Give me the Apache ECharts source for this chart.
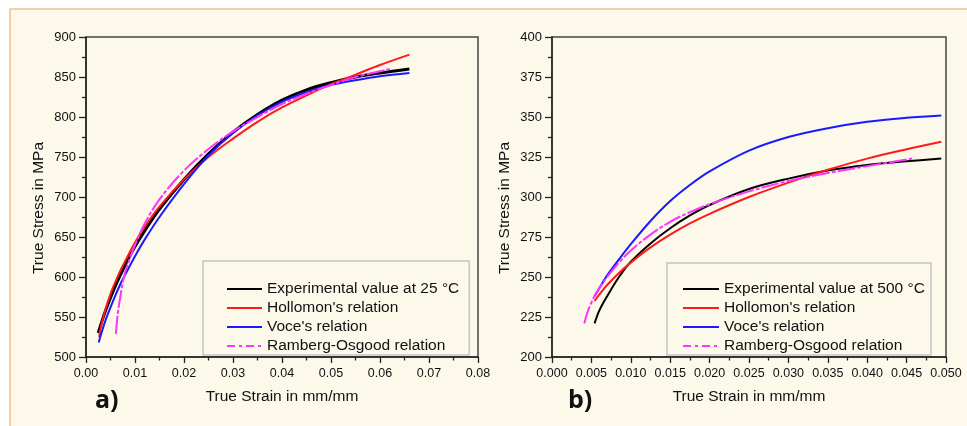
<!DOCTYPE html>
<html lang="en">
<head>
    <meta charset="UTF-8">
    <title>True stress - true strain</title>
    <script src="https://cdn.jsdelivr.net/npm/echarts@6.0.0/dist/echarts.min.js"></script>
    <style>
        html, body { margin: 0; padding: 0; background: #ffffff; }
    </style>
</head>
<body>

<div id="main" style="width: 967px;height:426px;"></div>

<script type="text/javascript">
    // legend names
    var namesA = ['Experimental value at 25 °C', "Hollomon's relation", "Voce's relation", 'Ramberg-Osgood relation'];
    var namesB = ['Experimental value at 500 °C', "Hollomon's relation", "Voce's relation", 'Ramberg-Osgood relation'];

    // a) 25 °C : [strain, stress MPa]
    var exp25 = [[0.0025, 530], [0.003, 540], [0.004, 558], [0.005, 574], [0.006, 589], [0.007, 602], [0.008, 615],
        [0.010, 638], [0.012, 658], [0.015, 685], [0.020, 722], [0.025, 754], [0.030, 781], [0.035, 803],
        [0.040, 821], [0.045, 834], [0.050, 843], [0.055, 850], [0.060, 855], [0.066, 860]];
    var hollomon25 = [[0.0027, 525], [0.003, 537], [0.004, 560], [0.005, 579], [0.006, 594], [0.007, 608], [0.008, 620],
        [0.010, 643], [0.012, 663], [0.015, 688], [0.020, 722], [0.025, 750], [0.030, 773], [0.035, 794],
        [0.040, 812], [0.045, 827], [0.050, 841], [0.055, 853], [0.060, 865], [0.066, 878]];
    var voce25 = [[0.0026, 518], [0.003, 527], [0.004, 546], [0.005, 562], [0.006, 577], [0.007, 591], [0.008, 603],
        [0.010, 626], [0.012, 647], [0.015, 675], [0.020, 716], [0.025, 752], [0.030, 780], [0.035, 802],
        [0.040, 819], [0.045, 831], [0.050, 840], [0.055, 846], [0.060, 851], [0.066, 855]];
    var ramberg25 = [[0.0061, 529], [0.0065, 555], [0.007, 575], [0.0075, 593], [0.008, 606], [0.009, 624],
        [0.010, 640], [0.012, 667], [0.015, 697], [0.020, 733], [0.025, 760], [0.030, 782], [0.035, 800],
        [0.040, 816], [0.045, 829], [0.050, 840], [0.055, 850], [0.062, 860]];

    // b) 500 °C : [strain, stress MPa]
    var exp500 = [[0.0054, 221], [0.006, 229], [0.007, 238], [0.0085, 250], [0.010, 259.5], [0.0125, 271], [0.015, 280.5],
        [0.0175, 288.5], [0.020, 295], [0.025, 305], [0.030, 311.5], [0.035, 316.5], [0.040, 320], [0.045, 322.3], [0.0494, 324]];
    var hollomon500 = [[0.0054, 235], [0.006, 239], [0.007, 245], [0.0085, 252.5], [0.010, 259], [0.0125, 268.5],
        [0.015, 276.5], [0.0175, 283.5], [0.020, 289.5], [0.025, 300], [0.030, 309], [0.035, 317], [0.040, 324],
        [0.045, 329.8], [0.0494, 334.5]];
    var voce500 = [[0.0054, 238], [0.006, 243], [0.007, 251], [0.0085, 261], [0.010, 270.5], [0.0125, 285], [0.015, 297.5],
        [0.0175, 307.5], [0.020, 316], [0.025, 329], [0.030, 337.5], [0.035, 343], [0.040, 347], [0.045, 349.5], [0.0494, 351]];
    var ramberg500 = [[0.0041, 221], [0.0045, 228], [0.005, 234], [0.0055, 239], [0.006, 243], [0.007, 250], [0.0085, 259],
        [0.010, 266.5], [0.0125, 276.5], [0.015, 284.5], [0.0175, 290.5], [0.020, 295.5], [0.025, 303.5], [0.030, 310],
        [0.035, 315], [0.040, 319.3], [0.0457, 324]];

    var colors = ['#000000', '#ff1a1a', '#1a1aff', '#ff33ff'];
    var font = 'Liberation Sans, Arial, sans-serif';

    var myChart = echarts.init(document.getElementById('main'));

    function xAxisOf(idx, max, step, digits) {
        return {
            gridIndex: idx, type: 'value', min: 0, max: max, interval: step,
            name: 'True Strain in mm/mm', nameLocation: 'middle', nameGap: 32,
            nameTextStyle: {color: '#111', fontSize: 15.5, fontFamily: font},
            axisLine: {lineStyle: {color: '#222', width: 1.5}},
            axisTick: {show: true, inside: false, length: 6, lineStyle: {color: '#222', width: 1.3}},
            minorTick: {show: true, splitNumber: 2, length: 3.5, lineStyle: {color: '#222', width: 1.3}},
            splitLine: {show: false},
            axisLabel: {
                color: '#111', fontSize: 12.5, fontFamily: font, margin: 10,
                formatter: function (v) { return v.toFixed(digits); }
            }
        };
    }

    function yAxisOf(idx, min, max, step) {
        return {
            gridIndex: idx, type: 'value', min: min, max: max, interval: step,
            name: 'True Stress in MPa', nameLocation: 'middle', nameGap: 39,
            nameTextStyle: {color: '#111', fontSize: 15.5, fontFamily: font, padding: [0, 22, 0, 0]},
            axisLine: {lineStyle: {color: '#222', width: 1.5}},
            axisTick: {show: true, inside: false, length: 7, lineStyle: {color: '#222', width: 1.3}},
            minorTick: {show: true, splitNumber: 2, length: 4, lineStyle: {color: '#222', width: 1.3}},
            splitLine: {show: false},
            axisLabel: {color: '#111', fontSize: 13, fontFamily: font, margin: 10}
        };
    }

    function lineOf(name, data, i, xi, width) {
        return {
            name: name, type: 'line', data: data, xAxisIndex: xi, yAxisIndex: xi,
            smooth: 0.35, symbol: 'none', showSymbol: false,
            lineStyle: {color: colors[i], width: width, type: i === 3 ? [18, 2, 4, 2] : 'solid'},
            itemStyle: {color: colors[i]},
            emphasis: {disabled: true},
            animation: false
        };
    }

    function legendOf(names, left, top, pad, w) {
        return {
            orient: 'vertical', left: left, top: top, padding: pad,
            itemWidth: w, itemHeight: 14, itemGap: 3,
            borderColor: '#c4c4c4', borderWidth: 1.5, backgroundColor: 'transparent',
            textStyle: {color: '#111', fontSize: 15.5, fontFamily: font},
            itemStyle: {opacity: 0},
            selectedMode: false,
            data: names.map(function (n, i) {
                var d = {name: n};
                if (i === 3) d.lineStyle = {type: [8, 4, 3, 4]};
                return d;
            })
        };
    }

    option = {
        backgroundColor: '#ffffff',
        graphic: [
            {type: 'rect', shape: {x: 10, y: 9, width: 1000, height: 440},
                style: {fill: '#fcf8ea', stroke: '#efc28c', lineWidth: 1.5}, z: -10, silent: true},
            {type: 'text', left: 95, top: 388,
                style: {text: 'a)', fill: '#111', font: 'bold 25px "Open Sans", sans-serif'}},
            {type: 'text', left: 568, top: 388,
                style: {text: 'b)', fill: '#111', font: 'bold 25px "Open Sans", sans-serif'}}
        ],
        grid: [
            {left: 86, top: 37, width: 392, height: 320, show: true, borderColor: '#444', borderWidth: 1.5, backgroundColor: 'transparent'},
            {left: 552, top: 37, width: 394, height: 320, show: true, borderColor: '#444', borderWidth: 1.5, backgroundColor: 'transparent'}
        ],
        xAxis: [xAxisOf(0, 0.08, 0.01, 2), xAxisOf(1, 0.05, 0.005, 3)],
        yAxis: [yAxisOf(0, 500, 900, 50), yAxisOf(1, 200, 400, 25)],
        legend: [legendOf(namesA, 203, 261, [20, 10, 1, 23], 35), legendOf(namesB, 667, 263, [18, 6, 1, 15], 36)],
        series: [
            lineOf(namesA[0], exp25, 0, 0, 3),
            lineOf(namesA[1], hollomon25, 1, 0, 2),
            lineOf(namesA[2], voce25, 2, 0, 2),
            lineOf(namesA[3], ramberg25, 3, 0, 2),
            lineOf(namesB[0], exp500, 0, 1, 2),
            lineOf(namesB[1], hollomon500, 1, 1, 2),
            lineOf(namesB[2], voce500, 2, 1, 2),
            lineOf(namesB[3], ramberg500, 3, 1, 2)
        ]
    };

    myChart.setOption(option);
</script>
</body>
</html>
